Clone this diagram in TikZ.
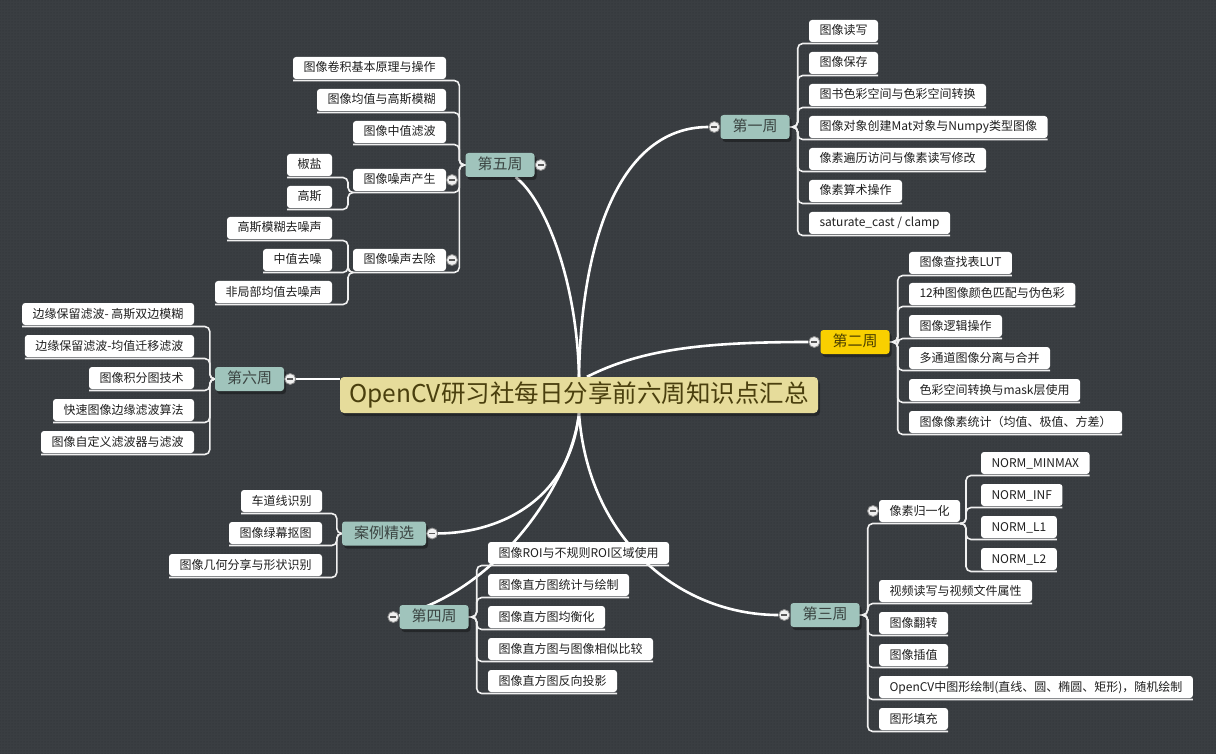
\documentclass[tikz,border=0pt]{standalone}
\usepackage{fontspec}
\setmainfont{Noto Sans CJK SC}
\usepackage{tikz}
\usetikzlibrary{patterns}
\usetikzlibrary{shadows}
\definecolor{bgcol}{HTML}{3A3E42}
\definecolor{dotcol}{HTML}{2C3034}
\definecolor{weekfill}{HTML}{A0C4BC}
\definecolor{weektext}{HTML}{3B4442}
\definecolor{hotfill}{HTML}{F9D000}
\definecolor{hottext}{HTML}{4A3E00}
\definecolor{rootfill}{HTML}{E6DC9B}
\definecolor{roottext}{HTML}{4A3F0E}
\pgfdeclarelayer{back}
\pgfdeclarelayer{lines}
\pgfsetlayers{back,lines,main}

\begin{document}
\begin{tikzpicture}[x=1pt,y=-1pt,
	leaf/.style={fill=white,rounded corners=3pt,text=black!88,font=\fontsize{12}{14}\selectfont,inner xsep=10.5pt,inner ysep=0pt,minimum height=22pt,text height=10pt,text depth=2pt,outer ysep=1.5pt,outer xsep=0pt},
	rleaf/.style={leaf,anchor=west},
	lleaf/.style={leaf,anchor=east},
	week/.style={fill=weekfill,text=weektext,rounded corners=3pt,font=\fontsize{15}{18}\selectfont,inner xsep=12pt,inner ysep=0pt,minimum height=24pt,text height=12pt,text depth=3pt,drop shadow={shadow xshift=2pt,shadow yshift=-3pt,fill=black,opacity=.35}},
	fold/.style={circle,draw=black!45,fill=black!6,line width=0.8pt,minimum size=11pt,inner sep=0pt,path picture={\draw[black!65,line width=1.3pt] ([xshift=-3pt]path picture bounding box.center) -- ([xshift=3pt]path picture bounding box.center);}},
	mainline/.style={draw=white,line width=2.6pt},
	leafline/.style={draw=white!94!black,line width=1.6pt,rounded corners=5pt}]
	\useasboundingbox (0,0) rectangle (1216,754);
	\begin{pgfonlayer}{back}
		\fill[bgcol] (0,0) rectangle (1216,754);
		\fill[pattern=dots,pattern color=dotcol] (0,0) rectangle (1216,754);
	\end{pgfonlayer}

	\draw (579,395) node (root) [fill=rootfill,text=roottext,rounded corners=4pt,font=\fontsize{24.5}{28}\selectfont,minimum width=478pt,minimum height=36pt,inner sep=0pt,drop shadow={shadow xshift=2pt,shadow yshift=-3pt,fill=black,opacity=.35}] {OpenCV研习社每日分享前六周知识点汇总};

	\draw (755,127) node (w1) [week] {第一周};
	\draw (855,342) node (w2) [week,fill=hotfill,text=hottext] {第二周};
	\draw (825,615) node (w3) [week] {第三周};
	\draw (434,617) node (w4) [week] {第四周};
	\draw (500,165) node (w5) [week] {第五周};
	\draw (249.5,379) node (w6) [week] {第六周};
	\draw (384,533.5) node (wc) [week] {案例精选};

	\draw (809,31) node (a1) [rleaf] {图像读写};
	\draw (809,63) node (a2) [rleaf] {图像保存};
	\draw (809,95) node (a3) [rleaf] {图书色彩空间与色彩空间转换};
	\draw (809,127) node (a4) [rleaf] {图像对象创建Mat对象与Numpy类型图像};
	\draw (809,159) node (a5) [rleaf] {像素遍历访问与像素读写修改};
	\draw (809,191) node (a6) [rleaf] {像素算术操作};
	\draw (809,223) node (a7) [rleaf] {saturate\_cast / clamp};

	\draw (909,263) node (m1) [rleaf] {图像查找表LUT};
	\draw (909,294) node (m2) [rleaf] {12种图像颜色匹配与伪色彩};
	\draw (909,326) node (m3) [rleaf] {图像逻辑操作};
	\draw (909,358) node (m4) [rleaf] {多通道图像分离与合并};
	\draw (909,390) node (m5) [rleaf] {色彩空间转换与mask层使用};
	\draw (909,422) node (m6) [rleaf] {图像像素统计（均值、极值、方差）};

	\draw (879,511) node (k1) [rleaf] {像素归一化};
	\draw (879,591) node (k2) [rleaf] {视频读写与视频文件属性};
	\draw (879,623) node (k3) [rleaf] {图像翻转};
	\draw (879,655) node (k4) [rleaf] {图像插值};
	\draw (879,687) node (k5) [rleaf] {OpenCV中图形绘制(直线、圆、椭圆、矩形)，随机绘制};
	\draw (879,719) node (k6) [rleaf] {图形填充};
	\draw (981,463) node (d1) [rleaf] {NORM\_MINMAX};
	\draw (981,495) node (d2) [rleaf] {NORM\_INF};
	\draw (981,527) node (d3) [rleaf] {NORM\_L1};
	\draw (981,559) node (d4) [rleaf] {NORM\_L2};

	\draw (488,553) node (h1) [rleaf] {图像ROI与不规则ROI区域使用};
	\draw (488,585) node (h2) [rleaf] {图像直方图统计与绘制};
	\draw (488,617) node (h3) [rleaf] {图像直方图均衡化};
	\draw (488,649) node (h4) [rleaf] {图像直方图与图像相似比较};
	\draw (488,681) node (h5) [rleaf] {图像直方图反向投影};

	\draw (446,68) node (b1) [lleaf] {图像卷积基本原理与操作};
	\draw (446,100) node (b2) [lleaf] {图像均值与高斯模糊};
	\draw (446,132) node (b3) [lleaf] {图像中值滤波};
	\draw (446,180) node (b4) [lleaf] {图像噪声产生};
	\draw (446,260) node (b5) [lleaf] {图像噪声去除};
	\draw (332,165) node (c1) [lleaf] {椒盐};
	\draw (332,197) node (c2) [lleaf] {高斯};
	\draw (332,228) node (c3) [lleaf] {高斯模糊去噪声};
	\draw (332,260) node (c4) [lleaf] {中值去噪};
	\draw (332,292) node (c5) [lleaf] {非局部均值去噪声};

	\draw (194,314) node (e1) [lleaf] {边缘保留滤波- 高斯双边模糊};
	\draw (194,346) node (e2) [lleaf] {边缘保留滤波-均值迁移滤波};
	\draw (194,378) node (e3) [lleaf] {图像积分图技术};
	\draw (194,410) node (e4) [lleaf] {快速图像边缘滤波算法};
	\draw (194,442) node (e5) [lleaf] {图像自定义滤波器与滤波};

	\draw (322,501) node (g1) [lleaf] {车道线识别};
	\draw (322,533) node (g2) [lleaf] {图像绿幕抠图};
	\draw (322,565) node (g3) [lleaf] {图像几何分享与形状识别};

	\draw (w1.west) ++(-6,0) node (f1) [fold] {};
	\draw (w2.west) ++(-6,0) node (f2) [fold] {};
	\draw (w3.west) ++(-6,0) node (f3) [fold] {};
	\draw (w4.west) ++(-6,0) node (f4) [fold] {};
	\draw (w5.east) ++(6,0) node (f5) [fold] {};
	\draw (w6.east) ++(6,0) node (f6) [fold] {};
	\draw (wc.east) ++(6,0) node (fc) [fold] {};
	\draw (k1.west) ++(-6,0) node (fk) [fold] {};
	\draw (b4.east) ++(6,0) node (fb4) [fold] {};
	\draw (b5.east) ++(6,0) node (fb5) [fold] {};

	\begin{pgfonlayer}{lines}
		\draw[mainline] (root.north) .. controls (581,240) and (620,127) .. (f1);
		\draw[mainline] ([xshift=8pt]root.north) .. controls (640,350) and (700,342) .. (f2);
		\draw[mainline] (root.south) .. controls (588,540) and (680,615) .. (f3);
		\draw[mainline] (root.south) .. controls (572,480) and (500,590) .. (f4);
		\draw[mainline] (root.north) .. controls (577,280) and (545,200) .. (w5);
		\draw[mainline] (f6) -- (f6 -| root.west);
		\draw[mainline] (root.south) .. controls (570,500) and (500,533) .. (fc);

		\draw[leafline] (w1.east) -- ++(8,0) |- (a1.south east);
		\draw[leafline] (w1.east) -- ++(8,0) |- (a2.south east);
		\draw[leafline] (w1.east) -- ++(8,0) |- (a3.south east);
		\draw[leafline] (w1.east) -- ++(8,0) |- (a4.south east);
		\draw[leafline] (w1.east) -- ++(8,0) |- (a5.south east);
		\draw[leafline] (w1.east) -- ++(8,0) |- (a6.south east);
		\draw[leafline] (w1.east) -- ++(8,0) |- (a7.south east);

		\draw[leafline] (w2.east) -- ++(8,0) |- (m1.south east);
		\draw[leafline] (w2.east) -- ++(8,0) |- (m2.south east);
		\draw[leafline] (w2.east) -- ++(8,0) |- (m3.south east);
		\draw[leafline] (w2.east) -- ++(8,0) |- (m4.south east);
		\draw[leafline] (w2.east) -- ++(8,0) |- (m5.south east);
		\draw[leafline] (w2.east) -- ++(8,0) |- (m6.south east);

		\draw[leafline] (w3.east) -- ++(8,0) |- (k1.south east);
		\draw[leafline] (w3.east) -- ++(8,0) |- (k2.south east);
		\draw[leafline] (w3.east) -- ++(8,0) |- (k3.south east);
		\draw[leafline] (w3.east) -- ++(8,0) |- (k4.south east);
		\draw[leafline] (w3.east) -- ++(8,0) |- (k5.south east);
		\draw[leafline] (w3.east) -- ++(8,0) |- (k6.south east);
		\draw[leafline] (k1.south east) -- ++(6,0) |- (d1.south east);
		\draw[leafline] (k1.south east) -- ++(6,0) |- (d2.south east);
		\draw[leafline] (k1.south east) -- ++(6,0) |- (d3.south east);
		\draw[leafline] (k1.south east) -- ++(6,0) |- (d4.south east);

		\draw[leafline] (w4.east) -- ++(8,0) |- (h1.south east);
		\draw[leafline] (w4.east) -- ++(8,0) |- (h2.south east);
		\draw[leafline] (w4.east) -- ++(8,0) |- (h3.south east);
		\draw[leafline] (w4.east) -- ++(8,0) |- (h4.south east);
		\draw[leafline] (w4.east) -- ++(8,0) |- (h5.south east);

		\draw[leafline] (w5.west) -- ++(-6,0) |- (b1.south west);
		\draw[leafline] (w5.west) -- ++(-6,0) |- (b2.south west);
		\draw[leafline] (w5.west) -- ++(-6,0) |- (b3.south west);
		\draw[leafline] (w5.west) -- ++(-6,0) |- (b4.south west);
		\draw[leafline] (w5.west) -- ++(-6,0) |- (b5.south west);
		\draw[leafline] (b4.south west) -- ++(-5,0) |- (c1.south west);
		\draw[leafline] (b4.south west) -- ++(-5,0) |- (c2.south west);
		\draw[leafline] (b5.south west) -- ++(-5,0) |- (c3.south west);
		\draw[leafline] (b5.south west) -- ++(-5,0) |- (c4.south west);
		\draw[leafline] (b5.south west) -- ++(-5,0) |- (c5.south west);

		\draw[leafline] (w6.west) -- ++(-5,0) |- (e1.south west);
		\draw[leafline] (w6.west) -- ++(-5,0) |- (e2.south west);
		\draw[leafline] (w6.west) -- ++(-5,0) |- (e3.south west);
		\draw[leafline] (w6.west) -- ++(-5,0) |- (e4.south west);
		\draw[leafline] (w6.west) -- ++(-5,0) |- (e5.south west);

		\draw[leafline] (wc.west) -- ++(-5,0) |- (g1.south west);
		\draw[leafline] (wc.west) -- ++(-5,0) |- (g2.south west);
		\draw[leafline] (wc.west) -- ++(-5,0) |- (g3.south west);
	\end{pgfonlayer}
\end{tikzpicture}
\end{document}
